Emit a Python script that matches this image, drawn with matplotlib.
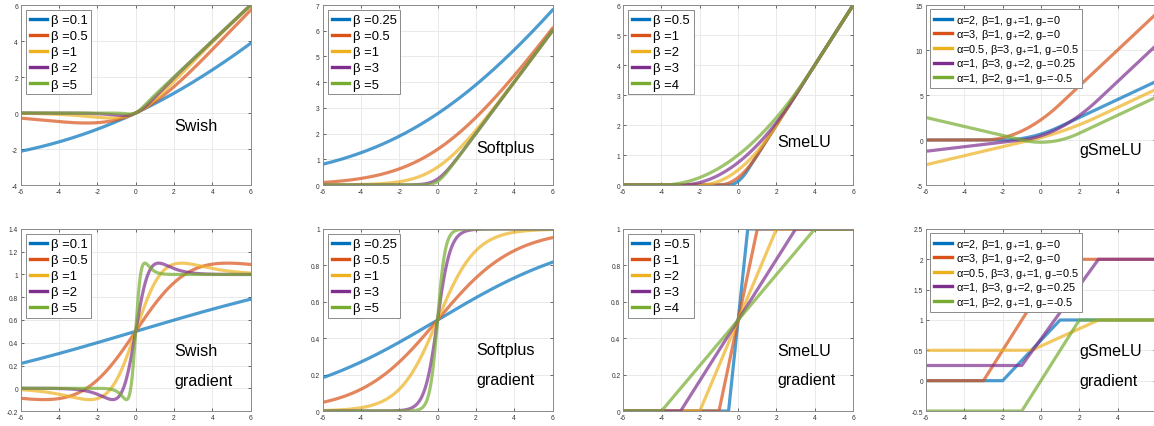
import numpy as np
import matplotlib
matplotlib.use("Agg")
from matplotlib import pyplot as plt
from matplotlib.ticker import FuncFormatter

plt.rcParams['font.family'] = ['Liberation Sans', 'DejaVu Sans']
plt.rcParams['axes.unicode_minus'] = False
plt.rcParams['mathtext.fontset'] = 'custom'
plt.rcParams['mathtext.rm'] = 'Liberation Sans'
plt.rcParams['mathtext.it'] = 'Liberation Sans'

# parameters of each panel
swish_betas = [0.1, 0.5, 1, 2, 5]
softplus_betas = [0.25, 0.5, 1, 3, 5]
smelu_betas = [0.5, 1, 2, 3, 4]
gs_alpha = [2, 3, 0.5, 1, 1]
gs_beta = [1, 1, 3, 3, 2]
gs_gplus = [1, 2, 1, 2, 1]
gs_gminus = [0, 0, 0.5, 0.25, -0.5]
gs_gminus_txt = ['0', '0', '0.5', '0.25', '-0.5']

colors = ['#0072BD', '#D95319', '#EDB120', '#7E2F8E', '#77AC30']
x = np.linspace(-6, 6, 1201)


def sig(z):
    return 1.0 / (1.0 + np.exp(-z))


def swish(x, b):
    return x * sig(b * x)


def swish_grad(x, b):
    s = sig(b * x)
    return s + b * x * s * (1 - s)


def softplus(x, b):
    return np.logaddexp(0, b * x) / b


def smelu(x, b):
    return np.where(x <= -b, 0, np.where(x >= b, x, (x + b) ** 2 / (4 * b)))


def smelu_grad(x, b):
    return np.clip((x + b) / (2 * b), 0, 1)


def gsmelu(x, a, b, gp, gm):
    w = a + b
    mid = gm * (x + a) + (gp - gm) * (x + a) ** 2 / (2 * w)
    right = (gp + gm) * w / 2 + gp * (x - b)
    return np.where(x <= -a, gm * (x + a), np.where(x >= b, right, mid))


def gsmelu_grad(x, a, b, gp, gm):
    t = np.clip((x + a) / (a + b), 0, 1)
    return gm + (gp - gm) * t


fig = plt.figure(figsize=(11.54, 4.27), dpi=100)
lefts = [0.0179, 0.2795, 0.5400, 0.8024]
w = 0.1993
rows = [(0.5644, 0.4215), (0.0351, 0.4263)]

fmt = FuncFormatter(lambda v, p: ('%g' % round(v, 6)))


def make_ax(col, row, ylim, ystep, xmax_tick=6):
    b, h = rows[row]
    ax = fig.add_axes([lefts[col], b, w, h])
    ax.set_xlim(-6, 6)
    ax.set_ylim(*ylim)
    ax.set_xticks(np.arange(-6, xmax_tick + 1, 2))
    ax.set_yticks(np.arange(ylim[0], ylim[1] + ystep / 2, ystep))
    ax.xaxis.set_major_formatter(fmt)
    ax.yaxis.set_major_formatter(fmt)
    ax.grid(True, color='#e6e6e6', linewidth=0.6)
    ax.set_axisbelow(True)
    ax.tick_params(direction='in', length=2, width=0.5, labelsize=4.8,
                   colors='#333333', pad=2, top=True, right=True)
    for s in ax.spines.values():
        s.set_color('#8a8a8a')
        s.set_linewidth(0.7)
    return ax


def beta_legend(ax):
    leg = ax.legend(loc='upper left', fontsize=9.4, frameon=True, fancybox=False,
                    framealpha=1, edgecolor='#8a8a8a', borderaxespad=0.4,
                    handlelength=1.3, handletextpad=0.3, labelspacing=0.3,
                    borderpad=0.3)
    leg.get_frame().set_linewidth(0.7)
    for h in leg.get_lines():
        h.set_alpha(1)
        h.set_linewidth(2.4)
    return leg


def gs_legend(ax):
    leg = ax.legend(loc='upper left', fontsize=7.9, frameon=True, fancybox=False,
                    framealpha=1, edgecolor='#8a8a8a', borderaxespad=0.4,
                    handlelength=1.7, handletextpad=0.3, labelspacing=0.05,
                    borderpad=0.3)
    leg.get_frame().set_linewidth(0.7)
    for h in leg.get_lines():
        h.set_alpha(1)
        h.set_linewidth(2.4)
    return leg


lw = 2.3
al = 0.7
tfs = 11.6

# Swish
ax = make_ax(0, 0, (-4, 6), 2)
for b, c in zip(swish_betas, colors):
    ax.plot(x, swish(x, b), color=c, lw=lw, alpha=al, label='β =%g' % b)
beta_legend(ax)
ax.text(0.667, 0.328, 'Swish', transform=ax.transAxes, fontsize=tfs, va='center')

ax = make_ax(0, 1, (-0.2, 1.4), 0.2)
for b, c in zip(swish_betas, colors):
    ax.plot(x, swish_grad(x, b), color=c, lw=lw, alpha=al, label='β =%g' % b)
beta_legend(ax)
ax.text(0.667, 0.33, 'Swish', transform=ax.transAxes, fontsize=tfs, va='center')
ax.text(0.667, 0.17, 'gradient', transform=ax.transAxes, fontsize=tfs, va='center')

# Softplus
ax = make_ax(1, 0, (0, 7), 1)
for b, c in zip(softplus_betas, colors):
    ax.plot(x, softplus(x, b), color=c, lw=lw, alpha=al, label='β =%g' % b)
beta_legend(ax)
ax.text(0.667, 0.207, 'Softplus', transform=ax.transAxes, fontsize=tfs, va='center')

ax = make_ax(1, 1, (0, 1), 0.2)
for b, c in zip(softplus_betas, colors):
    ax.plot(x, sig(b * x), color=c, lw=lw, alpha=al, label='β =%g' % b)
beta_legend(ax)
ax.text(0.667, 0.339, 'Softplus', transform=ax.transAxes, fontsize=tfs, va='center')
ax.text(0.667, 0.174, 'gradient', transform=ax.transAxes, fontsize=tfs, va='center')

# SmeLU
ax = make_ax(2, 0, (0, 6), 1)
for b, c in zip(smelu_betas, colors):
    ax.plot(x, smelu(x, b), color=c, lw=lw, alpha=al, label='β =%g' % b)
beta_legend(ax)
ax.text(0.67, 0.242, 'SmeLU', transform=ax.transAxes, fontsize=tfs, va='center')

ax = make_ax(2, 1, (0, 1), 0.2)
for b, c in zip(smelu_betas, colors):
    ax.plot(x, smelu_grad(x, b), color=c, lw=lw, alpha=al, label='β =%g' % b)
beta_legend(ax)
ax.text(0.67, 0.33, 'SmeLU', transform=ax.transAxes, fontsize=tfs, va='center')
ax.text(0.67, 0.174, 'gradient', transform=ax.transAxes, fontsize=tfs, va='center')

# gSmeLU (right edge of these panels runs off the figure, as in the original)
gs_labels = ['α=%g, β=%g, g$_{+}$=%g, g$_{-}$=%s' % (a, b, gp, gm)
             for a, b, gp, gm in zip(gs_alpha, gs_beta, gs_gplus, gs_gminus_txt)]

ax = make_ax(3, 0, (-5, 15), 5, xmax_tick=4)
for i, c in enumerate(colors):
    ax.plot(x, gsmelu(x, gs_alpha[i], gs_beta[i], gs_gplus[i], gs_gminus[i]),
            color=c, lw=lw, alpha=al, label=gs_labels[i])
gs_legend(ax)
ax.text(0.665, 0.195, 'gSmeLU', transform=ax.transAxes, fontsize=tfs, va='center')

ax = make_ax(3, 1, (-0.5, 2.5), 0.5, xmax_tick=4)
for i, c in enumerate(colors):
    ax.plot(x, gsmelu_grad(x, gs_alpha[i], gs_beta[i], gs_gplus[i], gs_gminus[i]),
            color=c, lw=lw, alpha=al, label=gs_labels[i])
gs_legend(ax)
ax.text(0.665, 0.334, 'gSmeLU', transform=ax.transAxes, fontsize=tfs, va='center')
ax.text(0.665, 0.17, 'gradient', transform=ax.transAxes, fontsize=tfs, va='center')

fig.savefig('out.png', dpi=100)
